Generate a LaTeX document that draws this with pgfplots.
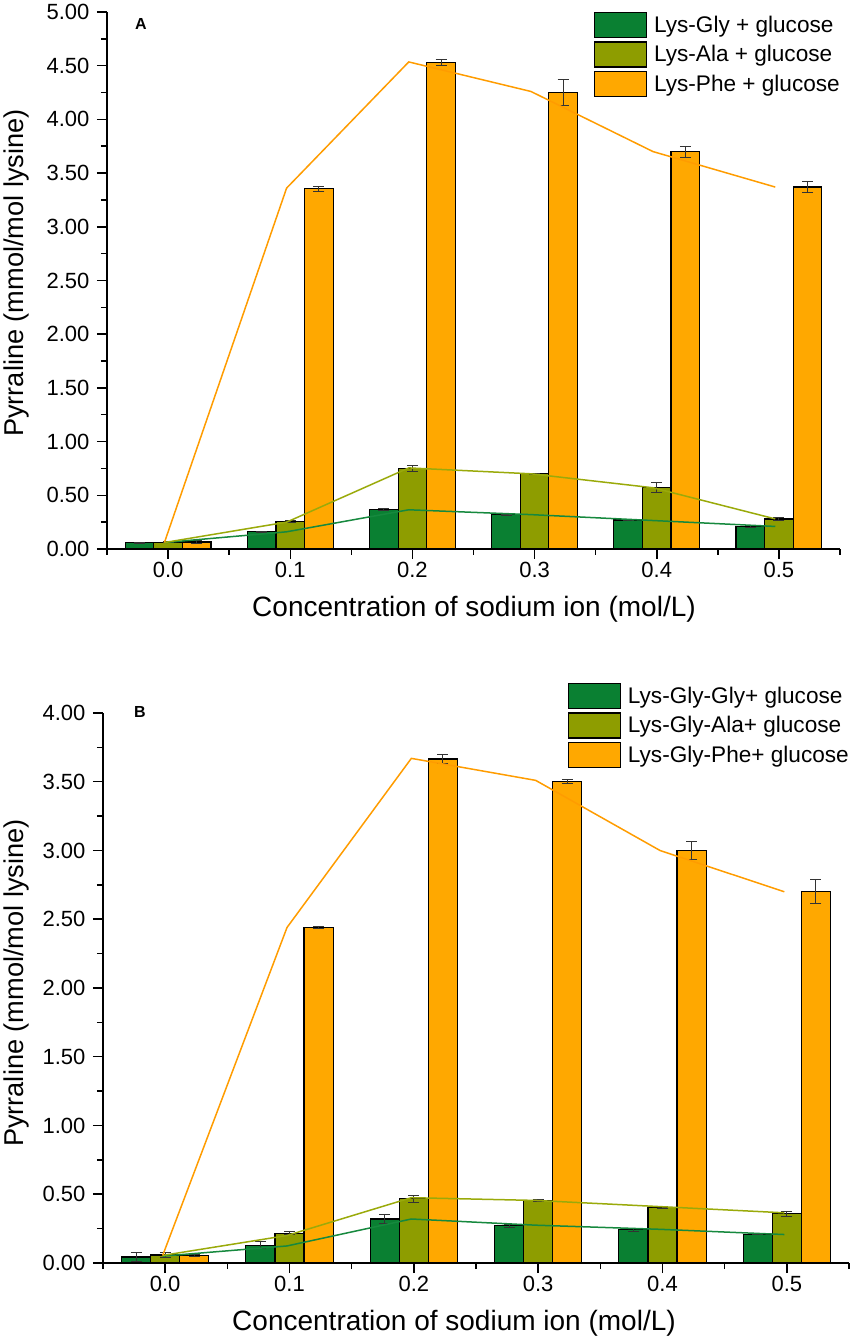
\documentclass[border=0pt]{standalone}
\usepackage{fontspec}
\setmainfont{Liberation Sans}
\usepackage{pgfplots}
\pgfplotsset{compat=1.18}
\definecolor{cgreen}{HTML}{0A8032}
\definecolor{colive}{HTML}{8E9D00}
\definecolor{corange}{HTML}{FFA800}
\definecolor{lgreen}{HTML}{16893E}
\definecolor{lolive}{HTML}{9AAA0A}
\definecolor{lorange}{HTML}{FF9C00}
\pgfplotsset{
  panel/.style={
    scale only axis, anchor=south west,
    xmin=-0.5, xmax=5.5, ymin=0,
    axis x line*=bottom, axis y line*=left,
    axis line style={line width=1.8pt, -},
    xtick={0,...,5}, xticklabels={0.0,0.1,0.2,0.3,0.4,0.5},
    minor xtick={-0.5,0.5,...,5.5},
    minor y tick num=1,
    tick align=outside,
    major tick length=10pt, minor tick length=6pt,
    every tick/.style={black, line width=1.5pt},
    tick label style={font=\fontsize{22}{22}\selectfont},
    yticklabel style={xshift=-4pt},
    /pgf/number format/assume math mode=true,
    yticklabel style={/pgf/number format/.cd, fixed, fixed zerofill, precision=2},
    legend style={draw=none, fill=none, at={(1,1)}, anchor=north east, inner sep=0pt,
      row sep=3pt, font=\fontsize{22.6}{22.6}\selectfont,
      nodes={inner ysep=2pt, inner xsep=0pt},
      /tikz/every odd column/.append style={column sep=7pt}},
    legend cell align=left,
    clip=false,
  },
  bars/.style={ybar, bar width=0.234, bar shift=0, draw=black, line width=1.2pt, fill=#1,
    legend image code/.code={\draw[draw=black, line width=1.2pt, fill=#1] (0pt,-12.5pt) rectangle (52pt,12.5pt);},
    error bars/y dir=both, error bars/y explicit,
    error bars/error bar style={line width=0.9pt, color=black!80},
    error bars/error mark options={rotate=90, line width=0.9pt, mark size=5.5pt, black!80}},
  dline/.style={sharp plot, mark=none, line width=1.5pt, color=#1, forget plot},
}
\begin{document}
\begin{tikzpicture}
\path[use as bounding box] (0,0) rectangle (852pt,1339pt);
% ---------- Panel A ----------
\begin{axis}[panel, at={(107pt,790pt)}, width=733pt, height=537pt,
  ymax=5, ytick={0,0.5,...,5}]
\addplot[bars=cgreen] coordinates {
 (-0.234,0.060) +- (0,0.004) (0.766,0.160) +- (0,0.006) (1.766,0.370) +- (0,0.007)
 (2.766,0.320) +- (0,0.005) (3.766,0.270) +- (0,0.004) (4.766,0.210) +- (0,0.005)};
\addlegendentry{Lys-Gly + glucose}
\addplot[bars=colive] coordinates {
 (0,0.062) +- (0,0.004) (1,0.255) +- (0,0.012) (2,0.752) +- (0,0.030)
 (3,0.700) +- (0,0.005) (4,0.570) +- (0,0.047) (5,0.280) +- (0,0.010)};
\addlegendentry{Lys-Ala + glucose}
\addplot[bars=corange] coordinates {
 (0.234,0.065) +- (0,0.012) (1.234,3.355) +- (0,0.022) (2.234,4.530) +- (0,0.025)
 (3.234,4.250) +- (0,0.120) (4.234,3.700) +- (0,0.050) (5.234,3.370) +- (0,0.050)};
\addlegendentry{Lys-Phe + glucose}
\addplot[dline=lgreen] coordinates {(-0.03,0.060) (0.97,0.160) (1.97,0.365) (2.97,0.320) (3.97,0.265) (4.97,0.210)};
\addplot[dline=lolive] coordinates {(-0.03,0.060) (0.97,0.250) (1.97,0.755) (2.97,0.700) (3.97,0.570) (4.97,0.280)};
\addplot[dline=lorange] coordinates {(-0.03,0.060) (0.97,3.360) (1.97,4.535) (2.97,4.260) (3.97,3.700) (4.97,3.370)};
\end{axis}
% ---------- Panel B ----------
\begin{axis}[panel, at={(103pt,76pt)}, width=746pt, height=550pt,
  ymax=4, ytick={0,0.5,...,4}, legend style={yshift=30pt}]
\addplot[bars=cgreen] coordinates {
 (-0.234,0.044) +- (0,0.030) (0.766,0.130) +- (0,0.025) (1.766,0.320) +- (0,0.030)
 (2.766,0.270) +- (0,0.010) (3.766,0.241) +- (0,0.010) (4.766,0.210) +- (0,0.004)};
\addlegendentry{Lys-Gly-Gly+ glucose}
\addplot[bars=colive] coordinates {
 (0,0.058) +- (0,0.020) (1,0.217) +- (0,0.012) (2,0.468) +- (0,0.025)
 (3,0.453) +- (0,0.006) (4,0.404) +- (0,0.004) (5,0.360) +- (0,0.018)};
\addlegendentry{Lys-Gly-Ala+ glucose}
\addplot[bars=corange] coordinates {
 (0.234,0.055) +- (0,0.006) (1.234,2.440) +- (0,0.006) (2.234,3.665) +- (0,0.035)
 (3.234,3.500) +- (0,0.015) (4.234,3.000) +- (0,0.063) (5.234,2.700) +- (0,0.086)};
\addlegendentry{Lys-Gly-Phe+ glucose}
\addplot[dline=lgreen] coordinates {(-0.02,0.050) (0.98,0.124) (1.98,0.320) (2.98,0.275) (3.98,0.245) (4.98,0.207)};
\addplot[dline=lolive] coordinates {(-0.02,0.055) (0.98,0.200) (1.98,0.475) (2.98,0.455) (3.98,0.410) (4.98,0.365)};
\addplot[dline=lorange] coordinates {(-0.02,0.055) (0.98,2.440) (1.98,3.670) (2.98,3.510) (3.98,3.000) (4.98,2.700)};
\end{axis}
% ---------- labels ----------
\node[font=\bfseries\fontsize{16}{16}\selectfont] at (141pt,1315pt) {A};
\node[font=\bfseries\fontsize{16}{16}\selectfont] at (140pt,627pt) {B};
\node[rotate=90, font=\fontsize{27.2}{27.2}\selectfont] at (16pt,1066pt) {Pyrraline (mmol/mol lysine)};
\node[rotate=90, font=\fontsize{27.2}{27.2}\selectfont] at (16pt,356pt) {Pyrraline (mmol/mol lysine)};
\node[anchor=base, font=\fontsize{28}{28}\selectfont] at (474pt,722pt) {Concentration of sodium ion (mol/L)};
\node[anchor=base, font=\fontsize{28}{28}\selectfont] at (454pt,9pt) {Concentration of sodium ion (mol/L)};
\end{tikzpicture}
\end{document}
